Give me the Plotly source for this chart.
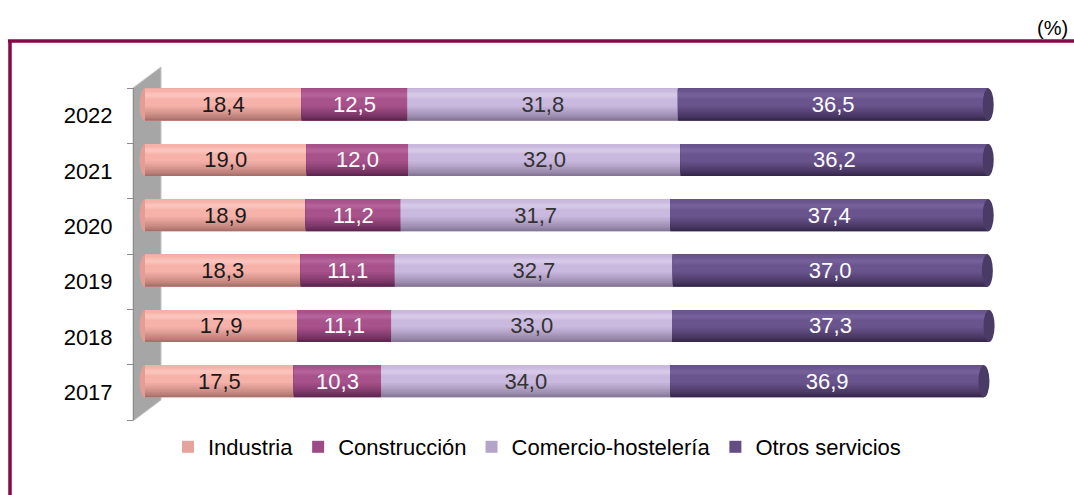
import plotly.graph_objects as go

# ---------------- data ----------------
years = ["2017", "2018", "2019", "2020", "2021", "2022"]
series_names = ["Industria", "Construcción", "Comercio-hostelería", "Otros servicios"]
industria = [17.5, 17.9, 18.3, 18.9, 19.0, 18.4]
construccion = [10.3, 11.1, 11.1, 11.2, 12.0, 12.5]
comercio = [34.0, 33.0, 32.7, 31.7, 32.0, 31.8]
otros = [36.9, 37.3, 37.0, 37.4, 36.2, 36.5]

# ---------------- style ----------------
W, H = 1074, 495
MT, MB = 88, 75
PLOT_H = H - MT - MB
X0PX, PPU = 145, 8.5          # pixel of value 0, pixels per unit
XMIN, XMAX = -2, 101
FONT = "Liberation Sans Narrow, Arial Narrow, Liberation Sans, Arial, sans-serif"
FRAME = "#870846"

# per series: (dark bottom, main body, highlight, legend swatch, end cap)
palette = [
    ("#a8706a", "#f6b2a9", "#fac4bd", "#e6a39b", "#e39d95"),
    ("#5e2650", "#a8528b", "#b4629a", "#9d4a86", "#8f3f78"),
    ("#857698", "#cab9de", "#d6c9e7", "#b4a4ca", "#b3a2c9"),
    ("#36284c", "#6a548d", "#75609a", "#624e85", "#4a3a66"),
]
text_colors = ["#1a1a1a", "#ffffff", "#333333", "#ffffff"]

# bar geometry in category units (bar is raised by the 3D depth)
FULL_OFF, FULL_W = -0.09, 0.58
TOP = FULL_OFF + FULL_W
N_GRAD = 9
GRAD_MIN_W = 0.32          # body (main colour) occupies the top part
HL_W, HL_TOPGAP = 0.12, 0.06


def px2x(px):
    return px / W


def py2y(py):
    return (H - MB - py) / PLOT_H


def mix(c1, c2, t):
    a = [int(c1[i:i + 2], 16) for i in (1, 3, 5)]
    b = [int(c2[i:i + 2], 16) for i in (1, 3, 5)]
    return "#" + "".join(f"{round(x + (y - x) * t):02x}" for x, y in zip(a, b))


values = [industria, construccion, comercio, otros]
bases = []
acc = [0.0] * len(years)
for v in values:
    bases.append(acc[:])
    acc = [a + b for a, b in zip(acc, v)]
totals = acc

fig = go.Figure()

for s, (name, v) in enumerate(zip(series_names, values)):
    dark, main, hl, leg, _ = palette[s]
    # legend-only carrier (same geometry as body, drawn first and covered)
    fig.add_trace(go.Bar(
        y=years, x=v, base=bases[s], orientation="h",
        width=FULL_W, offset=FULL_OFF,
        marker=dict(color=leg, line=dict(width=0)),
        name=name, legendgroup=name, showlegend=True, hoverinfo="skip",
    ))
    # gradient from dark bottom to main body (top-aligned layers)
    for k in range(N_GRAD):
        t = k / (N_GRAD - 1)
        lw = FULL_W - (FULL_W - GRAD_MIN_W) * t
        col = mix(dark, main, t ** 0.8)
        fig.add_trace(go.Bar(
            y=years, x=v, base=bases[s], orientation="h",
            width=lw, offset=TOP - lw,
            marker=dict(color=col, line=dict(width=0)),
            name=name, legendgroup=name, showlegend=False, hoverinfo="skip",
        ))
    # soft highlight band
    for k, (w_, c_) in enumerate([(HL_W, mix(main, hl, 0.5)), (HL_W * 0.5, hl)]):
        fig.add_trace(go.Bar(
            y=years, x=v, base=bases[s], orientation="h",
            width=w_, offset=TOP - HL_TOPGAP - HL_W + (HL_W - w_) / 2,
            marker=dict(color=c_, line=dict(width=0)),
            name=name, legendgroup=name, showlegend=False, hoverinfo="skip",
        ))

# text layer (transparent bars carrying the labels)
for s, (name, v) in enumerate(zip(series_names, values)):
    fig.add_trace(go.Bar(
        y=years, x=v, base=bases[s], orientation="h",
        width=FULL_W, offset=FULL_OFF,
        marker=dict(color="rgba(0,0,0,0)", line=dict(width=0)),
        texttemplate="%{x:.1f}", textposition="inside",
        insidetextanchor="middle", textangle=0, constraintext="none",
        textfont=dict(family=FONT, size=22, color=text_colors[s]),
        showlegend=False, hoverinfo="skip", name=name,
    ))

shapes = []
# grey 3D wall
wall = [(133, 88), (161, 67), (161, 400), (133, 421)]
path = "M " + " L ".join(f"{px2x(a):.5f},{py2y(b):.5f}" for a, b in wall) + " Z"
shapes.append(dict(type="path", xref="paper", yref="paper", path=path,
                   fillcolor="#a6a6a6", line=dict(color="#c4c4c4", width=1),
                   layer="below"))
# rounded ends of the cylinders
CAP = 0.65
for i, tot in enumerate(totals):
    shapes.append(dict(type="circle", xref="x", yref="y",
                       x0=-CAP, x1=CAP, y0=i + FULL_OFF, y1=i + TOP,
                       fillcolor=palette[0][4], line=dict(width=0), layer="below"))
    shapes.append(dict(type="circle", xref="x", yref="y",
                       x0=tot - CAP, x1=tot + CAP, y0=i + FULL_OFF, y1=i + TOP,
                       fillcolor=palette[3][4], line=dict(width=0), layer="above"))
# frame lines
shapes.append(dict(type="line", xref="paper", yref="paper",
                   x0=px2x(8), x1=px2x(W), y0=py2y(41), y1=py2y(41),
                   line=dict(color=FRAME, width=3.5)))
shapes.append(dict(type="line", xref="paper", yref="paper",
                   x0=px2x(10), x1=px2x(10), y0=py2y(41), y1=py2y(H + 2),
                   line=dict(color=FRAME, width=3.5)))

fig.update_layout(
    width=W, height=H,
    margin=dict(l=0, r=0, t=MT, b=MB, autoexpand=False),
    paper_bgcolor="white", plot_bgcolor="rgba(0,0,0,0)",
    barmode="overlay", separators=", ",
    font=dict(family=FONT, size=22, color="#000000"),
    shapes=shapes,
    showlegend=True,
    legend=dict(orientation="h", x=0.5, xanchor="center", xref="paper",
                y=py2y(447), yanchor="middle", traceorder="normal",
                font=dict(family=FONT, size=22, color="#000000"),
                bgcolor="rgba(0,0,0,0)", itemclick=False),
    annotations=[dict(text="(%)", xref="paper", yref="paper",
                      x=px2x(1070), y=py2y(28), xanchor="right", yanchor="middle",
                      showarrow=False, font=dict(family=FONT, size=20, color="#000"))],
)
fig.update_xaxes(range=[XMIN, XMAX], visible=False,
                 domain=[px2x(X0PX + XMIN * PPU), px2x(X0PX + XMAX * PPU)])
fig.update_yaxes(type="category", categoryorder="array", categoryarray=years,
                 range=[-0.5, len(years) - 0.5], anchor="free", position=px2x(133),
                 showline=True, linecolor="#8c8c8c", linewidth=1,
                 ticks="outside", ticklen=6, tickcolor="#8c8c8c", tickson="boundaries",
                 ticklabelstandoff=16, showgrid=False, zeroline=False,
                 tickfont=dict(family=FONT, size=22, color="#000"),
                 automargin=False, fixedrange=True)

fig.write_html("out.html", config={"displayModeBar": False, "staticPlot": True},
               post_script="document.body.style.margin='0';document.body.style.padding='0';")
